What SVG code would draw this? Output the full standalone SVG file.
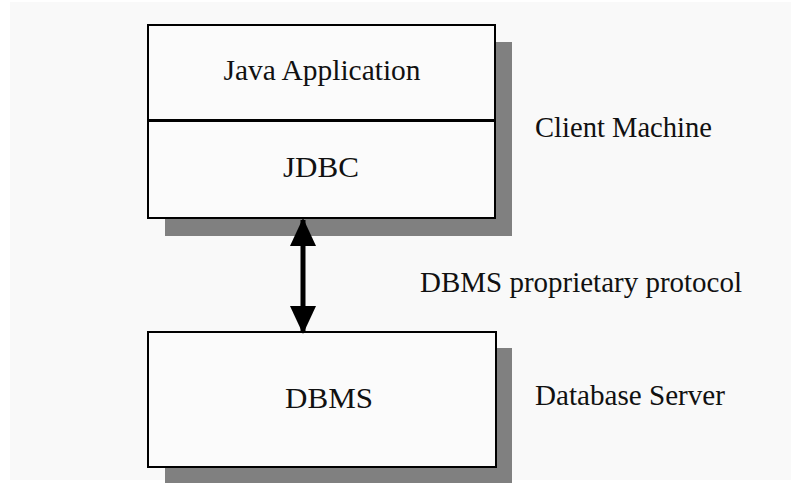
<svg xmlns="http://www.w3.org/2000/svg" width="791" height="483" viewBox="0 0 791 483">
  <style>
    .shadow { fill: #808080; }
    .box { fill: #fbfbfb; stroke: #000; stroke-width: 2; }
    .label { font-family: "Liberation Serif", "Times New Roman", serif; font-size: 29px; fill: #111; }
    .mid { text-anchor: middle; }
  </style>
  <defs>
    <marker id="head" viewBox="0 0 28 26" refX="26" refY="13" markerWidth="28" markerHeight="26" markerUnits="userSpaceOnUse" orient="auto-start-reverse">
      <path d="M0,0 L28,13 L0,26 Z" fill="#000"/>
    </marker>
  </defs>

  <!-- page background -->
  <rect x="0" y="0" width="791" height="483" fill="#ffffff"/>
  <rect x="10" y="2" width="781" height="478" fill="#f9f9f9"/>

  <!-- client stack: Java Application over JDBC -->
  <g id="client">
    <rect class="shadow" x="165" y="42" width="347" height="194"/>
    <rect class="box" x="148" y="25" width="347" height="193"/>
    <line x1="148" y1="120.5" x2="495" y2="120.5" stroke="#000" stroke-width="3"/>
    <text class="label mid" x="322" y="80" textLength="197" lengthAdjust="spacingAndGlyphs">Java Application</text>
    <text class="label mid" x="321" y="177" textLength="76" lengthAdjust="spacingAndGlyphs">JDBC</text>
  </g>

  <!-- database server box -->
  <g id="dbms">
    <rect class="shadow" x="165" y="348" width="347" height="135"/>
    <rect class="box" x="148" y="332" width="348" height="135"/>
    <text class="label mid" x="329" y="408" textLength="88" lengthAdjust="spacingAndGlyphs">DBMS</text>
  </g>

  <!-- side captions -->
  <g id="captions">
    <text class="label" x="535" y="137" textLength="177" lengthAdjust="spacingAndGlyphs">Client Machine</text>
    <text class="label" x="420" y="292" textLength="322" lengthAdjust="spacingAndGlyphs">DBMS proprietary protocol</text>
    <text class="label" x="535" y="405" textLength="190" lengthAdjust="spacingAndGlyphs">Database Server</text>
  </g>

  <!-- two-way link between client and server -->
  <g id="connectors">
    <line x1="303" y1="220" x2="303" y2="332" stroke="#000" stroke-width="5" marker-start="url(#head)" marker-end="url(#head)"/>
  </g>
</svg>
